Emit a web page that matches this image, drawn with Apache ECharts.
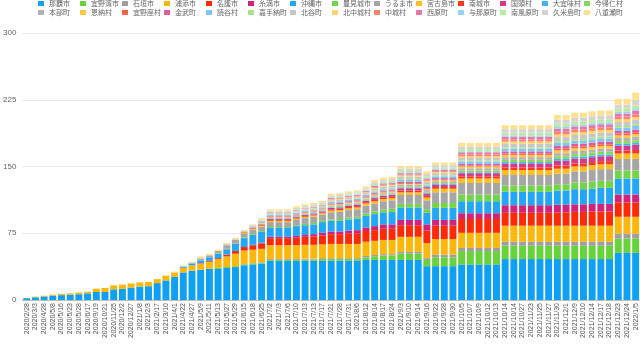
<!DOCTYPE html>
<html><head><meta charset="utf-8">
<script src="https://cdn.jsdelivr.net/npm/echarts@6/dist/echarts.min.js"></script>
<style>html,body{margin:0;padding:0;background:#fff}#c{width:640px;height:344px}</style>
</head><body><div id="c"></div>
<script>
const categories = ['2020/2/28','2020/3/3','2020/4/28','2020/5/8','2020/5/16','2020/5/23','2020/5/28','2020/6/17','2020/9/19','2020/10/21','2020/11/25','2020/12/2','2020/12/27','2021/1/8','2021/2/3','2021/2/17','2021/3/10','2021/4/1','2021/4/22','2021/4/27','2021/5/9','2021/5/11','2021/5/13','2021/5/27','2021/5/29','2021/6/15','2021/6/18','2021/6/25','2021/7/2','2021/7/3','2021/7/6','2021/7/10','2021/7/13','2021/7/13','2021/7/17','2021/7/21','2021/7/28','2021/7/31','2021/8/6','2021/8/12','2021/8/14','2021/8/17','2021/8/24','2021/9/3','2021/9/10','2021/9/14','2021/9/16','2021/9/22','2021/9/28','2021/9/30','2021/10/5','2021/10/7','2021/10/9','2021/10/12','2021/10/13','2021/10/14','2021/10/14','2021/10/27','2021/11/23','2021/11/25','2021/11/27','2021/11/30','2021/12/1','2021/12/9','2021/12/10','2021/12/14','2021/12/17','2021/12/18','2021/12/23','2021/12/24','2022/1/5'];

const seriesNames = ['那覇市','宜野湾市','石垣市','浦添市','名護市','糸満市','沖縄市','豊見城市','うるま市','宮古島市','南城市','国頭村','大宜味村','今帰仁村','本部町','恩納村','宜野座村','金武町','読谷村','嘉手納町','北谷町','北中城村','中城村','西原町','与那原町','南風原町','久米島町','八重瀬町'];

const seriesColors = ['#0fa0f4','#68d23d','#9e9e9e','#fcb70c','#fd2a05','#d02379','#22a6f5','#72d547','#a6a6a6','#fdbe22','#fd3a18','#d5398a','#42b1f6','#84d95c','#b3b3b3','#fec744','#fd6446','#df5b9d','#7cc7f8','#a6e48b','#c6c6c6','#fed46c','#fd8468','#e777ab','#97d3f9','#b8eba2','#d3d3d3','#fee08f'];

const yTicks = [0, 75, 150, 225, 300];

const naha = [2,3,4,5,5.5,6,6.5,7.5,9,9,12,12.5,14,15,15.5,19, 22,26,31,33,34,35,35, 36,37,39,40,41, 44,44,44,44,44,44,44, 44,44,44,44,45,45,45,45, 45,45,45,38, 38,38,38, 40,40,40,40,40, 46,46,46,46,46,46,46,46,46,46,46,46,46, 53,53,53];
const ginowan = [0,0,0,0,0,0,0,0,0,0,0,0,0,0,0,0, 0,0,0,0,0,0,1, 1,1,1,1,1, 1,1,1,1,1.5,1.5,2, 2,2,2,2,3,4,5,5, 7,7,7,7, 10,10,10, 15,15,15,15,15, 15,15,15,15,15,15,15,15,15,15,15,15,15, 16,16,16];
const ishigaki = [0,0,0,0,0,0,0,0,0,0,0,0,0,0,0,0, 0,0,0,0,0,0,0, 0,0,0.5,0.5,0.5, 1,1,1,1,1,1,1, 1,1,1,1,1.5,1.5,1.5,1.5, 2,2,2,2, 3,3,3, 3.5,3.5,3.5,3.5,3.5, 4.5,4.5,4.5,4.5,4.5,4.5,4.5,4.5,4.5,4.5,4.5,4.5,4.5, 5.5,5.5,5.5];
const urasoe = [0,0.7,0.8,1.1,1.4,1.5,1.9,1.8,3.7,4.5,4.5,4.8,4.6,4.8,4.8,4.5, 5,5,5,6,7,8,10, 12,14,15,15,15, 15.5,15.5,15.5,15.5,15.5,15.5,15.5, 16,16,16,16,16,16,16,16, 17,17,17,17, 17.5,17.5,17.5, 17,17,17,17,17, 18,18,18,18,18,18,18,18,18,18,18,18,18, 19,19,19];
const nago = [0,0,0,0,0,0,0,0,0,0,0,0,0,0,0,0, 0,0,0,0,0.5,1,1, 2,3,4,5,6, 8,8,8,8.5,9,9.5,10, 11,11,11.5,12,12,12,12.5,12.5, 13,13,13,14, 15,15,15, 15.5,15.5,15.5,15.5,15.5, 14.5,14.5,14.5,14.5,14.5,14.5,15,15,15.5,15.5,16,16,16, 16,16,16];
const itoman = [0,0,0,0,0,0,0,0,0,0,0,0,0,0,0,0, 0,0,0,0,0,0,0, 0,0,0,0.5,1, 1.5,1.5,1.5,2,2,2.5,3, 3,3,3.5,3.5,4,4.5,5,5, 6,6,6,7, 6.5,6.5,6.5, 6.5,6.5,6.5,6.5,6.5, 8.5,8.5,8.5,8.5,8.5,8.5,8.5,8.5,8.5,8.5,8.5,8.5,8.5, 9,9,9];
const okinawa = [0,0,0,0,0,0,0,0,0,0,0,0,0,0,0,0, 0,0,1,2,3,4,5, 6,8,10,11,12, 10,10,10,11,11,11,12, 12,12,12.5,13,13,13.5,13.5,14, 14,14,14,13, 13.5,13.5,13.5, 13.5,13.5,13.5,13.5,13.5, 15,15,15,15,15,15,16,16,17,17,17,18,18, 18,18,18];
const tomigusuku = [0,0,0,0,0,0,0,0,0,0,0,0,0,0,0,0, 0,0,0,0,0,0,0.5, 0.5,0.5,1,1,1, 1,1,1,1,1.5,1.5,1.5, 1.5,2,2,2,2.5,3,3,3.5, 4,4,4,4, 5.5,5.5,5.5, 7.5,7.5,7.5,7.5,7.5, 7,7,7,7,7,7,7,7,7.5,7.5,8,8,8, 9,9,9];
const uruma = [0,0,0,0,0,0,0,0,0,0,0,0,0,0,0,0, 0,0,0.5,1,1.5,2,2.5, 4,4,4.5,5,5, 5.5,5.5,5.5,6,6.5,7,7, 8,8,8.5,8.5,9,9,9.5,9.5, 10,10,10,10, 12,12,12, 13,13,13,13,13, 12,12,12,12,12,12,12,12,12.5,12.5,13,13,13, 13,13,13];
const miyakojima = [0,0,0,0,0,0,0,0,0,0,0,0,0,0,0,0, 0,0,0,0,0.5,0.5,0.5, 0.5,0.5,1,1,1, 1.5,1.5,1.5,1.5,1.5,1.5,1.5, 2,2,2,2,2.5,2.5,2.5,2.5, 3,3,3,3, 4,4,4, 5,5,5,5,5, 5.5,5.5,5.5,5.5,5.5,5.5,5.5,5.5,5.5,5.5,5.5,5.5,5.5, 6,6,6];
const nanjo = [0,0,0,0,0,0,0,0,0,0,0,0,0,0,0,0, 0,0,0,0,0,0,0,0,0, 0.5,0.5,1, 1,1,1, 1,1,1,1, 1.5,1.5,1.5,1.5,1.5, 1.5,1.5,1.5, 2,2,2,2,2,2,2, 2.5,2.5,2.5,2.5,2.5, 3,3,3,3,3,3, 3.5,3.5,3.5,3.5,3.5,3.5,3.5,3.5,3.5, 4];
const kunigami = [0,0,0,0,0,0,0,0,0,0,0,0,0,0,0,0, 0,0,0,0,0,0,0,0,0, 0,0.5,0.5, 1,1,1, 1,1,1,1, 1.5,1.5,1.5,1.5,1.5, 2,2,2, 2.5,2.5,2.5,2.5,2.5,2.5,2.5, 3.5,3.5,3.5,3.5,3.5, 4.5,4.5,4.5,4.5,4.5,4.5, 5.5,5.5,5.5,5.5,5.5,5.5,5.5,5.5,5.5, 6];
const ogimi = [0,0,0,0,0,0,0,0,0,0,0,0,0,0,0,0, 0,0,0,0,0,0,0,0,0, 0,0,0, 0.5,0.5,0.5, 0.5,0.5,0.5,0.5, 0.5,0.5,0.5,0.5,0.5, 0.5,0.5,0.5, 1,1,1,1,1,1,1, 1,1,1,1,1, 1.5,1.5,1.5,1.5,1.5,1.5, 2,2,2,2,2,2,2,2,2, 2];
const nakijin = [0,0,0,0,0,0,0,0,0,0,0,0,0,0,0,0, 0,0,0,0,0,0,0,0,0, 0,0,0.5, 0.5,0.5,0.5, 0.5,0.5,0.5,0.5, 1,1,1,1,1, 1,1,1, 1,1,1,1,1,1,1, 2,2,2,2,2, 2.5,2.5,2.5,2.5,2.5,2.5, 3,3,3,3,3,3,3,3,3, 3];
const motobu = [0,0,0,0,0,0,0,0,0,0,0,0,0,0,0,0, 0,0,0,0,0,0,0,0,0, 0,0.5,0.5, 1,1,1, 1,1,1,1, 1,1,1,1,1, 1.5,1.5,1.5, 2,2,2,2,2,2,2, 2.5,2.5,2.5,2.5,2.5, 3,3,3,3,3,3, 3.5,3.5,3.5,3.5,3.5,3.5,3.5,3.5,3.5, 4];
const onna = [0,0,0,0,0,0,0,0,0,0,0,0,0,0,0,0, 0,0,0,0,0,0,0,0,0, 0,0,0.5, 0.5,0.5,0.5, 0.5,0.5,0.5,0.5, 1,1,1,1,1, 1,1,1, 1,1,1,1,1,1,1, 2,2,2,2,2, 2.5,2.5,2.5,2.5,2.5,2.5, 3,3,3,3,3,3,3,3,3, 3];
const ginoza = [0,0,0,0,0,0,0,0,0,0,0,0,0,0,0,0, 0,0,0,0,0,0,0,0,0, 0,0,0, 0.5,0.5,0.5, 0.5,0.5,0.5,0.5, 0.5,0.5,0.5,0.5,0.5, 1,1,1, 1,1,1,1,1,1,1, 1,1,1,1,1, 1.5,1.5,1.5,1.5,1.5,1.5, 2,2,2,2,2,2,2,2,2, 2];
const kin = [0,0,0,0,0,0,0,0,0,0,0,0,0,0,0,0, 0,0,0,0,0,0,0,0,0, 0,0,0, 0.5,0.5,0.5, 0.5,0.5,0.5,0.5, 1,1,1,1,1, 1,1,1, 1.5,1.5,1.5,1.5,1.5,1.5,1.5, 2,2,2,2,2, 2.5,2.5,2.5,2.5,2.5,2.5, 3,3,3,3,3,3,3,3,3, 3];
const yomitan = [0,0,0,0,0,0,0,0,0,0,0,0,0,0,0,0, 0,0,0,0,0,0,0,0,0, 0,0.5,1, 1,1,1, 1,1,1,1, 1.5,1.5,1.5,1.5,1.5, 1.5,1.5,1.5, 2,2,2,2,2,2,2, 2.5,2.5,2.5,2.5,2.5, 3,3,3,3,3,3, 3.5,3.5,3.5,3.5,3.5,3.5,3.5,3.5,3.5, 4];
const kadena = [0,0,0,0,0,0,0,0,0,0,0,0,0,0,0,0, 0,0,0,0,0,0,0,0,0, 0,0,0, 0.5,0.5,0.5, 0.5,0.5,0.5,0.5, 0.5,0.5,0.5,0.5,0.5, 1,1,1, 1,1,1,1,1,1,1, 1,1,1,1,1, 1.5,1.5,1.5,1.5,1.5,1.5, 2,2,2,2,2,2,2,2,2, 2];
const chatan = [0,0,0,0,0,0,0,0,0,0,0,0,0,0,0,0, 0,0,0.5,0,1,0.5,0,1,1, 1,1,1, 1,1,1, 1,1,1,1, 1.5,1.5,1.5,1.5,1.5, 2,2,2, 2.5,2.5,2.5,2.5,2.5,2.5,2.5, 3,3,3,3,3, 4,4,4,4,4,4, 4.5,4.5,4.5,4.5,4.5,4.5,4.5,4.5,4.5, 5];
const kitanakagusuku = [0,0,0,0,0,0,0,0,0,0,0,0,0,0,0,0, 0,0,0,0,0,0,0,0,0, 0,0,0, 0.5,0.5,0.5, 0.5,0.5,0.5,0.5, 1,1,1,1,1, 1,1,1, 1.5,1.5,1.5,1.5,1.5,1.5,1.5, 2,2,2,2,2, 2.5,2.5,2.5,2.5,2.5,2.5, 3,3,3,3,3,3,3,3,3, 3];
const nakagusuku = [0,0,0,0,0,0,0,0,0,0,0,0,0,0,0,0, 0,0,0,0,0,0,0,0,0, 0,0,0, 0.5,0.5,0.5, 0.5,0.5,0.5,0.5, 0.5,0.5,0.5,0.5,0.5, 1,1,1, 1,1,1,1,1,1,1, 2,2,2,2,2, 2.5,2.5,2.5,2.5,2.5,2.5, 3,3,3,3,3,3,3,3,3, 3];
const nishihara = [0,0,0,0,0,0,0,0,0,0,0,0,0,0,0,0, 0,0,0,0,0,0,0,0,0, 0,0,0.5, 0.5,0.5,0.5, 0.5,0.5,0.5,0.5, 1,1,1,1,1, 1.5,1.5,1.5, 1.5,1.5,1.5,1.5,1.5,1.5,1.5, 2.5,2.5,2.5,2.5,2.5, 3,3,3,3,3,3, 3.5,3.5,3.5,3.5,3.5,3.5,3.5,3.5,3.5, 4];
const yonabaru = [0,0,0,0,0,0,0,0,0,0,0,0,0,0,0,0, 0,0,0,0,0,0,0,0,0, 0,0,0, 0.5,0.5,0.5, 0.5,0.5,0.5,0.5, 0.5,0.5,0.5,0.5,0.5, 0.5,0.5,0.5, 1,1,1,1,1,1,1, 1,1,1,1,1, 1.5,1.5,1.5,1.5,1.5,1.5, 2,2,2,2,2,2,2,2,2, 2];
const haebaru = [0,0,0,0,0,0,0,0,0,0,0,0,0,0,0,0, 0,0,0,0,0,0,0,0,0, 0,0,0.5, 0.5,0.5,0.5, 0.5,0.5,0.5,0.5, 1,1,1,1,1, 1.5,1.5,1.5, 1.5,1.5,1.5,1.5,1.5,1.5,1.5, 2.5,2.5,2.5,2.5,2.5, 3,3,3,3,3,3, 3.5,3.5,3.5,3.5,3.5,3.5,3.5,3.5,3.5, 4];
const kumejima = [0,0,0,0,0,0,0,0,0,0,0,0,0,0,0,0, 0,0,0,0,0,0,0,0,0, 0.5,1,1, 1,1,1, 1.5,1.5,1.5,1.5, 1.5,1.5,1.5,1.5,1.5, 2,2,2, 2.5,2.5,2.5,2.5,2.5,2.5,2.5, 3,3,3,3,3, 4,4,4,4,4,4, 4.5,4.5,4.5,4.5,4.5,4.5,4.5,4.5,4.5, 6];
const yaese = [0,0,0,0,0,0,0,0,0,0,0,0,0,0,0,0, 1,1,1,1,1.5,1,1,1,1, 1,1,1.5, 1.5,1.5,1.5, 2,2,2,2, 2,2,2,2,2, 2.5,2.5,2.5, 3,3,3,3,3,3,3, 4,4,4,4,4, 4.5,4.5,4.5,4.5,4.5,4.5, 5.5,5.5,5.5,5.5,5.5,5.5,5.5,6.5,6.5, 8.5];

const seriesData = [naha,ginowan,ishigaki,urasoe,nago,itoman,okinawa,tomigusuku,uruma,miyakojima,nanjo,kunigami,ogimi,nakijin,motobu,onna,ginoza,kin,yomitan,kadena,chatan,kitanakagusuku,nakagusuku,nishihara,yonabaru,haebaru,kumejima,yaese];

const FONT = '"Liberation Sans", "Noto Sans CJK JP", sans-serif';
const chart = echarts.init(document.getElementById('c'), null, {renderer: 'canvas'});
chart.setOption({
  animation: false,
  backgroundColor: '#fff',
  textStyle: {fontFamily: FONT},
  legend: {
    top: 0, left: 38, width: 600, padding: 0,
    itemWidth: 6, itemHeight: 5, itemGap: 2, icon: 'rect',
    textStyle: {fontSize: 7, color: '#666', width: 29, lineHeight: 5, fontFamily: '"Noto Sans CJK JP", sans-serif'},
    data: seriesNames
  },
  grid: {left: 19, right: 0, top: 33, bottom: 44, containLabel: false},
  xAxis: {
    type: 'category', data: categories,
    axisTick: {show: false},
    axisLine: {lineStyle: {color: '#bdbdbd'}},
    axisLabel: {rotate: 90, interval: 0, fontSize: 7, color: '#555', margin: 3, fontFamily: FONT}
  },
  yAxis: {
    type: 'value', min: yTicks[0], max: yTicks[yTicks.length - 1], interval: yTicks[1] - yTicks[0],
    axisLine: {show: false}, axisTick: {show: false},
    axisLabel: {fontSize: 8, color: '#666', margin: 6, fontFamily: FONT},
    splitLine: {lineStyle: {color: '#e6e6e6'}}
  },
  series: seriesNames.map((n, i) => ({
    name: n, type: 'bar', stack: 'total', data: seriesData[i],
    barCategoryGap: '20%',
    itemStyle: {color: seriesColors[i]},
    emphasis: {disabled: true}
  }))
});
</script></body></html>
